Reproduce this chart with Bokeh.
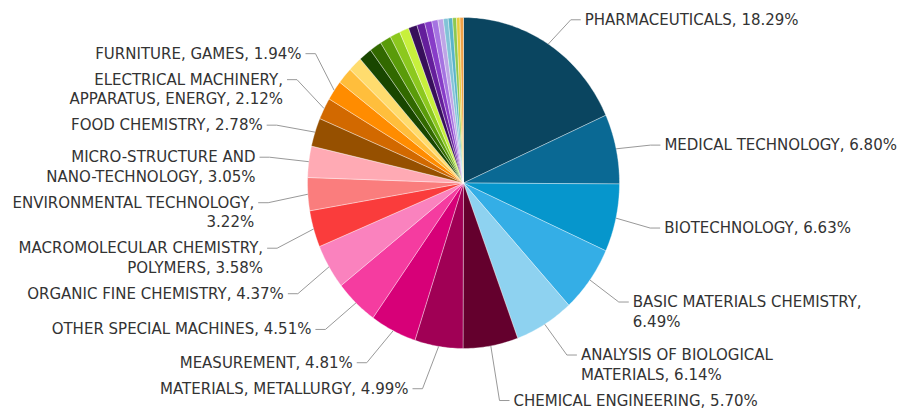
import math
import textwrap
from bokeh.plotting import figure
from bokeh.models import Range1d, ColumnDataSource
from bokeh.core.properties import value
from bokeh.embed import file_html
from bokeh.resources import INLINE

# ---------------- data ----------------
labeled_names = [
    "PHARMACEUTICALS", "MEDICAL TECHNOLOGY", "BIOTECHNOLOGY",
    "BASIC MATERIALS CHEMISTRY", "ANALYSIS OF BIOLOGICAL MATERIALS",
    "CHEMICAL ENGINEERING", "MATERIALS, METALLURGY", "MEASUREMENT",
    "OTHER SPECIAL MACHINES", "ORGANIC FINE CHEMISTRY",
    "MACROMOLECULAR CHEMISTRY, POLYMERS", "ENVIRONMENTAL TECHNOLOGY",
    "MICRO-STRUCTURE AND NANO-TECHNOLOGY", "FOOD CHEMISTRY",
    "ELECTRICAL MACHINERY, APPARATUS, ENERGY", "FURNITURE, GAMES",
]
labeled_shares = [18.29, 6.80, 6.63, 6.49, 6.14, 5.70, 4.99, 4.81,
                  4.51, 4.37, 3.58, 3.22, 3.05, 2.78, 2.12, 1.94]
labeled_colors = [
    "#0a4560", "#0a6994", "#0696cc", "#34aee6", "#8ed2f0",
    "#64002d", "#a00055", "#d70078", "#f53ca0", "#fa82be",
    "#fa3c3c", "#fa7d7d", "#ffaab4", "#965000", "#d26900", "#ff8c00",
]

minor_names = ["OTHER FIELD %d" % (i + 1) for i in range(17)]
minor_shares = [1.62, 1.45, 1.35, 1.25, 1.15, 1.05, 0.98, 0.90, 0.82,
                0.74, 0.64, 0.56, 0.50, 0.45, 0.40, 0.36, 0.36]
minor_colors = [
    "#ffbe3c", "#ffdc6e", "#194600", "#326900", "#5a9b0a", "#8cc81e",
    "#c8f03c", "#370f5a", "#641e9b", "#873cc8", "#a573e1", "#bea5e6",
    "#82c3d7", "#5ab4c8", "#8cc850", "#e6cd3c", "#f0a046",
]

# ---------------- layout ----------------
W, H = 904, 411
CX, CY, RX, RY = 463.0, 182.5, 156.0, 165.5
LABEL_CY = CY + 3.0     # vertical centre used for label heights
R_NAT = 198.0           # radius used for natural label height
LRX, LRY = 210.0, 208.0  # ellipse on which labels sit
RIGHT_SHIFT = -5.0
MIN_DX = 55.0
LH = 19.5               # line height of labels
GAP = 26.0              # min distance between label blocks
FONT = "DejaVu Sans"
FONT_SIZE = "15px"
TEXT_COLOR = "#333333"
LINE_COLOR = "#999999"

names = labeled_names + minor_names
shares = labeled_shares + minor_shares
colors = labeled_colors + minor_colors
total = sum(shares)

p = figure(width=W, height=H, x_range=Range1d(0, W), y_range=Range1d(H, 0),
           x_axis_type=None, y_axis_type=None, output_backend="svg",
           toolbar_location=None, min_border=0)
p.outline_line_color = None
p.background_fill_color = "white"
p.border_fill_color = "white"


def edge(theta):
    return CX + RX * math.sin(theta), CY - RY * math.cos(theta)


# slices (clockwise from 12 o'clock)
xs, ys = [], []
cum = 0.0
mids = []
for s in shares:
    a0 = cum / total * 2 * math.pi
    a1 = (cum + s) / total * 2 * math.pi
    n = max(4, int((a1 - a0) / (2 * math.pi) * 360) + 2)
    px, py = [CX], [CY]
    for k in range(n + 1):
        t = a0 + (a1 - a0) * k / n
        ex, ey = edge(t)
        px.append(ex)
        py.append(ey)
    xs.append(px)
    ys.append(py)
    mids.append((a0 + a1) / 2)
    cum += s

p.patches(xs=xs, ys=ys, fill_color=colors, line_color="white",
          line_width=0.6, line_alpha=0.6)

# labels
labels = []
for i, (nm, s) in enumerate(zip(labeled_names, labeled_shares)):
    txt = "%s, %.2f%%" % (nm, s)
    lines = textwrap.wrap(txt, width=30, break_on_hyphens=False)
    th = mids[i]
    side = 1 if math.sin(th) >= 0 else -1
    labels.append(dict(lines=lines, theta=th, side=side,
                       y=LABEL_CY - R_NAT * math.cos(th)))

for side in (1, -1):
    grp = sorted([l for l in labels if l["side"] == side], key=lambda l: l["y"])
    for _ in range(200):
        changed = False
        for a, b in zip(grp[:-1], grp[1:]):
            need = a["y"] + (len(a["lines"]) - 1) * LH + GAP
            if b["y"] < need - 1e-6:
                d = need - b["y"]
                if b["y"] <= LABEL_CY:
                    a["y"] -= d
                elif a["y"] >= LABEL_CY:
                    b["y"] += d
                else:
                    a["y"] -= d / 2
                    b["y"] += d / 2
                changed = True
        if not changed:
            break

tx, ty, tt, talign = [], [], [], []
cx_l, cy_l = [], []
for l in labels:
    dy = l["y"] - LABEL_CY
    dx = LRX * math.sqrt(max(0.0, 1 - (dy / LRY) ** 2))
    dx = max(MIN_DX, dx)
    lx = CX + l["side"] * dx + (RIGHT_SHIFT if l["side"] > 0 else 0.0)
    px0, py0 = edge(l["theta"])
    cx_l.append([px0, lx - l["side"] * 14, lx - l["side"] * 4])
    cy_l.append([py0, l["y"], l["y"]])
    for k, line in enumerate(l["lines"]):
        tx.append(lx)
        ty.append(l["y"] + k * LH)
        tt.append(line)
        talign.append("left" if l["side"] > 0 else "right")

p.multi_line(xs=cx_l, ys=cy_l, line_color=LINE_COLOR, line_width=1)

src = ColumnDataSource(dict(x=tx, y=ty, text=tt, align=talign))
p.text(x="x", y="y", text="text", source=src, text_align="align",
       text_baseline="middle", text_font=value(FONT),
       text_font_size=FONT_SIZE, text_color=TEXT_COLOR)

open("out.html", "w").write(file_html(p, INLINE))
